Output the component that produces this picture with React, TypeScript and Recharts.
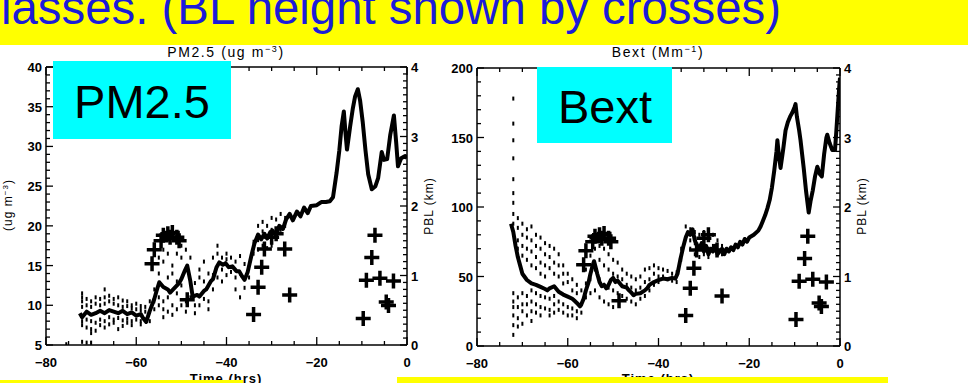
import React from 'react';
import { ComposedChart, Line, Scatter, XAxis, YAxis } from 'recharts';

// axis labels
const timeLabels = [-80, -60, -40, -20, 0];
const pmLabels = [5, 10, 15, 20, 25, 30, 35, 40];
const bextLabels = [0, 50, 100, 150, 200];
const pblLabels = [0, 1, 2, 3, 4];

const steps = (a: number, b: number, s: number) => {
  const out: number[] = [];
  for (let i = 0; a + i * s <= b + 1e-9; i++) out.push(Math.round((a + i * s) * 100) / 100);
  return out;
};
const timeTicks = steps(-80, 0, 5);
const pmTicks = steps(5, 40, 1);
const bextTicks = steps(0, 200, 10);
const pblTicks = steps(0, 4, 0.1);

// PM2.5 running mean [hrs, ug m-3]
const pmCurve: [number, number][] = [
  [-72.5, 9], [-72, 8.5], [-71, 9.2], [-70, 8.8], [-69, 9.0], [-68, 9.3], [-67, 9.0], [-66, 9.4],
  [-65, 9.2], [-64, 9.0], [-63, 9.3], [-62, 8.9], [-61, 9.1], [-60, 8.7], [-59, 8.9], [-58.5, 8.4],
  [-57.8, 7.9], [-57, 9.3], [-56, 10.8], [-55.5, 11.8], [-54.9, 12.9], [-54, 12.3], [-53, 12.0],
  [-52.5, 11.6], [-51.5, 12.2], [-50.5, 12.8], [-50, 13.3], [-49.2, 14.4], [-48.7, 15.0], [-48, 13],
  [-47.5, 11.1], [-46.5, 11.3], [-46, 11.1], [-45, 11.8], [-44.5, 12.0], [-43.5, 13.0], [-43, 13.3],
  [-42.2, 14.8], [-41.6, 15.4], [-40.8, 15.1], [-40.2, 15.3], [-39.5, 14.8], [-38.7, 14.9],
  [-37.8, 14.3], [-37.2, 14.3], [-36.5, 13.6], [-36, 13.2], [-35.3, 14.2], [-34.5, 16.2], [-33.8, 17.8],
  [-33, 18.9], [-32.3, 18.3], [-31.6, 19.0], [-31, 18.4], [-30.3, 19.2], [-29.8, 19.4], [-29, 18.8],
  [-28.3, 20.0], [-27.5, 19.6], [-26.8, 20.8], [-26, 21.5], [-25.3, 20.7], [-24.4, 21.8], [-23.6, 21.2],
  [-22.8, 22.3], [-22, 21.6], [-21.3, 22.5], [-20, 22.6], [-19, 23.0], [-18, 23.0], [-17.1, 23.1],
  [-16.4, 23.6], [-15.6, 26.7], [-15, 29.5], [-14.5, 32.5], [-14, 34.4], [-13.6, 31.5], [-13.3, 29.6],
  [-12.6, 32.5], [-12, 34.8], [-11.5, 36.3], [-10.9, 37.2], [-10.4, 35.8], [-9.8, 33.0], [-9.2, 29.5],
  [-8.6, 26.5], [-7.8, 24.6], [-7, 25.0], [-6.4, 26.0], [-5.6, 29.3], [-5.1, 28.3], [-4.4, 28.4],
  [-3.7, 31.5], [-2.9, 33.9], [-2.4, 30.5], [-2, 27.5], [-1.3, 28.5], [-0.4, 28.8], [0, 28.5],
];

// PM2.5 individual samples [hrs, values]
const pmSamples: [number, number[]][] = [
  [-75.5, [5.1]],
  [-72, [11.5, 11, 10.5, 9.8, 8, 7.5, 5.4]], [-71, [10.8, 10, 8.2, 7.2, 5.3]],
  [-70, [10.5, 9.8, 8, 7, 6.5, 5.3]], [-69, [11, 10.2, 7.8, 6.8]], [-68, [10.8, 10, 8.2, 7.5]],
  [-67, [12, 11, 10.2, 8, 7.2]], [-66, [11.2, 10.5, 8.5, 7.6]], [-65, [10.8, 10.2, 8.2, 7.8]],
  [-64, [11, 10, 8.4, 7]], [-63, [10.6, 9.8, 8.1, 7.4]], [-62, [10.5, 9.9, 8.3, 7.8]],
  [-61, [10, 9.6, 8, 7.5]], [-60, [10.2, 9.5, 8.2]], [-59, [9.9, 9.4, 8.0, 7.6]], [-58, [9.8, 9.2, 8.2]],
  [-57, [10.5, 8]], [-56, [12, 10.5, 9.5]], [-55, [16, 14, 11, 10]], [-54, [17, 15.5, 10.5, 9.5, 8.5]],
  [-53, [16.5, 13.5, 11, 9.2]], [-52, [15, 14, 10, 8.8]], [-51, [16.5, 13, 11.5, 9.5]],
  [-50, [17.5, 16, 12.5, 10]], [-49, [17, 14.5, 10.5, 9.2]], [-48, [16, 13, 11]], [-47, [12.8, 10, 9]],
  [-46, [14.5, 13.5, 10]], [-45, [15.5, 13, 10.8]], [-44, [14, 10.5, 9.5]], [-43, [16, 13.8, 12]],
  [-42, [17.5, 16.5, 13.5]], [-41, [16, 14.5, 13]], [-40, [16.5, 15.8, 13.8]], [-39, [16, 14.2]],
  [-38, [15.5, 13.5, 12]], [-37, [16.2, 14, 11]], [-36, [15.2, 12.2]], [-35, [15, 13.5]],
  [-34, [18, 16.5]], [-33, [20, 18.2, 17]], [-32, [20.5, 19.3, 17.5]], [-31, [20, 18.5, 17.2]],
  [-30, [21, 19.5, 17.5]], [-29, [20.8, 18.8]], [-28, [21.5, 19.5]], [-27, [21, 20]],
];

// Bext running mean [hrs, Mm-1]
const bextCurve: [number, number][] = [
  [-72.5, 88], [-72, 82], [-71.5, 72], [-71, 64], [-70.5, 58], [-70, 52], [-69, 47.5], [-68, 45],
  [-67, 44], [-66, 42.5], [-65, 41], [-64.5, 40], [-64, 41.5], [-63, 43], [-62.5, 41], [-62, 39],
  [-61, 37], [-60, 35.5], [-59, 34], [-58.5, 32.5], [-58, 31], [-57.3, 28.5], [-57, 30], [-56.5, 34],
  [-56, 40], [-55.4, 46], [-55, 52], [-54.5, 58], [-54.2, 61], [-53.8, 56], [-53.5, 52], [-53, 46],
  [-52.5, 43], [-52, 44], [-51.5, 41.5], [-51, 44], [-50.5, 47.5], [-50, 49], [-49.5, 46], [-49, 47],
  [-48, 43], [-47, 42], [-46.5, 40], [-46, 38.5], [-45.5, 36.5], [-45, 37.5], [-44, 38], [-43, 40],
  [-42.5, 41.5], [-42, 44], [-41, 46], [-40, 47.5], [-39, 48.5], [-38, 48], [-37, 49], [-36.3, 48.5],
  [-35.8, 52], [-35.2, 62], [-34.5, 72], [-34, 78], [-33.5, 82], [-33, 80], [-32.5, 84], [-32, 76],
  [-31.5, 72], [-31, 70], [-30.5, 74], [-30, 68], [-29.5, 72], [-29, 66], [-28.5, 70], [-28, 68],
  [-27.5, 72], [-27, 66], [-26.5, 68], [-26, 70], [-25.5, 66], [-25, 70], [-24.5, 68], [-24, 71],
  [-23.5, 69], [-23, 73], [-22.5, 71], [-22, 75], [-21.5, 73], [-21, 77], [-20.5, 75], [-20, 78],
  [-19, 80], [-18, 83], [-17.5, 86], [-17, 90], [-16.5, 94], [-16, 99], [-15.5, 105], [-15, 114],
  [-14.5, 126], [-14, 140], [-13.8, 148], [-13.5, 138], [-13.1, 128], [-12.5, 142], [-12, 155],
  [-11.5, 161], [-11, 165], [-10.5, 168], [-10, 172], [-9.8, 174], [-9.5, 165], [-9, 155], [-8.7, 148],
  [-8, 128], [-7.5, 112], [-7.2, 104], [-6.9, 96], [-6.5, 104], [-6, 112], [-5.5, 122], [-5, 129],
  [-4.5, 124], [-4, 122], [-3.5, 138], [-3, 150], [-2.8, 152], [-2.3, 146], [-1.7, 141], [-1.1, 141],
  [-0.8, 155], [-0.5, 170], [-0.2, 185], [0, 193],
];

// Bext individual samples [hrs, values]
const bextSamples: [number, number[]][] = [
  [-72, [178, 160, 148, 135, 120, 110, 103, 95, 88, 80, 38, 32, 28, 22, 15, 8]],
  [-71, [92, 85, 76, 70, 35, 28, 20, 14]], [-70, [88, 80, 72, 65, 38, 30, 25, 16]],
  [-69, [84, 78, 70, 62, 36, 30, 22]], [-68, [86, 76, 68, 58, 40, 32, 25, 18]],
  [-67, [80, 72, 64, 56, 38, 30, 24]], [-66, [78, 70, 60, 52, 36, 28, 22]],
  [-65, [74, 66, 58, 50, 35, 27]], [-64, [72, 64, 56, 34, 26, 22]], [-63, [70, 60, 52, 36, 30, 24]],
  [-62, [66, 58, 50, 32, 26]], [-61, [58, 52, 45, 30, 24]], [-60, [52, 46, 28, 22]],
  [-59, [48, 40, 27, 22]], [-58, [44, 38, 25, 20]], [-57, [40, 30, 24]], [-56, [55, 45, 35]],
  [-55, [78, 65, 48, 38]], [-54, [80, 70, 55, 40]], [-53, [72, 62, 48, 35]], [-52, [70, 58, 44, 32]],
  [-51, [66, 55, 42, 30]], [-50, [62, 52, 40, 28]], [-49, [60, 50, 38]], [-48, [55, 48, 36]],
  [-47, [52, 44, 34]], [-46, [50, 42, 32]], [-45, [48, 40, 30]], [-44, [50, 42, 34]],
  [-43, [55, 46, 36]], [-42, [56, 48, 40]], [-41, [58, 52, 44]], [-40, [56, 50, 46]],
  [-39, [55, 50]], [-38, [54, 48]], [-37, [52, 47]], [-36, [53, 46]], [-35, [70, 62]],
  [-34, [86, 78]], [-33, [84, 76, 70]], [-32, [82, 74, 66]], [-31, [80, 72, 64]],
  [-30, [82, 74, 66]], [-29, [78, 70, 64]], [-28, [80, 72]], [-27, [76, 68]], [-26, [72, 66]],
];

// boundary layer height [hrs, km]
const pblHeight: [number, number][] = [
  [-56.5, 1.17], [-56, 1.37], [-54.5, 1.5], [-54, 1.58], [-53, 1.6], [-52.5, 1.55], [-52, 1.62],
  [-51, 1.55], [-50.5, 1.5], [-48.7, 0.65], [-34, 0.44], [-33, 0.83], [-32.2, 1.12], [-31.6, 1.38],
  [-30, 1.55], [-29, 1.6], [-27.1, 1.38], [-26, 0.72], [-9.7, 0.38], [-9, 0.93], [-7.8, 1.26],
  [-7.1, 1.58], [-6, 0.96], [-4.6, 0.62], [-4.1, 0.57], [-3, 0.92],
];

const pairs = (a: [number, number][]) => a.map(([t, v]) => ({ t, v }));
const columns = (a: [number, number[]][]) => a.flatMap(([t, vs]) => vs.map((v) => ({ t, v })));

const tickFont = { fontFamily: '"Liberation Sans", Arial, sans-serif', fontSize: 13, fontWeight: 700 };
const labelFont = '"Liberation Sans", Arial, sans-serif';
const axisStyle = { stroke: '#000', strokeWidth: 1.5 };

const LeftTick = ({ x, y, payload, labels }: any) => {
  const major = labels.includes(payload.value);
  return (
    <g>
      <line x1={x} y1={y} x2={x + (major ? 7 : 4)} y2={y} stroke="#000" strokeWidth={1.3} />
      {major && <text x={x - 4} y={y + 5} textAnchor="end" style={tickFont} fill="#000">{payload.value}</text>}
    </g>
  );
};

const RightTick = ({ x, y, payload, labels }: any) => {
  const major = labels.includes(payload.value);
  return (
    <g>
      <line x1={x} y1={y} x2={x - (major ? 7 : 4)} y2={y} stroke="#000" strokeWidth={1.3} />
      {major && <text x={x + 4} y={y + 5} textAnchor="start" style={tickFont} fill="#000">{payload.value}</text>}
    </g>
  );
};

const BottomTick = ({ x, y, payload }: any) => {
  const major = timeLabels.includes(payload.value);
  return (
    <g>
      <line x1={x} y1={y} x2={x} y2={y - (major ? 8 : 4)} stroke="#000" strokeWidth={1.3} />
      {major && (
        <text x={x} y={y + 22} textAnchor="middle" style={tickFont} fill="#000">
          {payload.value === 0 ? '0' : '\u2212' + Math.abs(payload.value)}
        </text>
      )}
    </g>
  );
};

const TopTick = ({ x, y, payload }: any) => {
  const major = timeLabels.includes(payload.value);
  return <line x1={x} y1={y} x2={x} y2={y + (major ? 8 : 4)} stroke="#000" strokeWidth={1.3} />;
};

const Dash = ({ cx, cy }: any) => <rect x={cx - 1} y={cy - 2} width={2} height={4} fill="#000" />;

const Cross = ({ cx, cy }: any) => (
  <path d={`M${cx - 7.5},${cy}H${cx + 7.5}M${cx},${cy - 7.5}V${cy + 7.5}`} stroke="#000" strokeWidth={3.5} fill="none" />
);

interface PanelProps {
  left: number;
  width: number;
  margin: { top: number; right: number; bottom: number; left: number };
  curve: { t: number; v: number }[];
  samples: { t: number; v: number }[];
  domain: [number, number];
  ticks: number[];
  labels: number[];
}

// axes take 1px each, so margins are one less than the plot edges
const Panel = ({ left, width, margin, curve, samples, domain, ticks, labels }: PanelProps) => (
  <div style={{ position: 'absolute', left, top: 0 }}>
    <ComposedChart width={width} height={383} margin={margin}>
      <XAxis
        xAxisId="b" dataKey="t" type="number" domain={[-80, 0]} ticks={timeTicks} interval={0}
        height={1} tickSize={0} tickMargin={0} axisLine={axisStyle} tickLine={false}
        tick={(p: any) => <BottomTick {...p} />} allowDataOverflow
      />
      <XAxis
        xAxisId="t" orientation="top" dataKey="t" type="number" domain={[-80, 0]} ticks={timeTicks}
        interval={0} height={1} tickSize={0} tickMargin={0} axisLine={axisStyle} tickLine={false}
        tick={(p: any) => <TopTick {...p} />} allowDataOverflow
      />
      <YAxis
        yAxisId="main" type="number" domain={domain} ticks={ticks} interval={0} width={1}
        tickSize={0} tickMargin={0} axisLine={axisStyle} tickLine={false}
        tick={(p: any) => <LeftTick {...p} labels={labels} />} allowDataOverflow
      />
      <YAxis
        yAxisId="pbl" orientation="right" type="number" domain={[0, 4]} ticks={pblTicks} interval={0}
        width={1} tickSize={0} tickMargin={0} axisLine={axisStyle} tickLine={false}
        tick={(p: any) => <RightTick {...p} labels={pblLabels} />} allowDataOverflow
      />
      <Scatter xAxisId="b" yAxisId="main" data={samples} dataKey="v" shape={<Dash />} isAnimationActive={false} />
      <Line
        xAxisId="b" yAxisId="main" data={curve} dataKey="v" type="linear" stroke="#000" strokeWidth={4}
        strokeLinejoin="round" dot={false} isAnimationActive={false}
      />
      <Scatter xAxisId="b" yAxisId="pbl" data={pairs(pblHeight)} dataKey="v" shape={<Cross />} isAnimationActive={false} />
    </ComposedChart>
  </div>
);

export default function App() {
  return (
    <div style={{ position: 'fixed', left: 0, top: 0, width: 968, height: 383, background: '#fff', overflow: 'hidden' }}>
      <Panel
        left={0} width={460} margin={{ top: 66, right: 52, bottom: 37, left: 45 }}
        curve={pairs(pmCurve)} samples={columns(pmSamples)} domain={[5, 40]} ticks={pmTicks} labels={pmLabels}
      />
      <Panel
        left={430} width={538} margin={{ top: 67, right: 127, bottom: 36, left: 46 }}
        curve={pairs(bextCurve)} samples={columns(bextSamples)} domain={[0, 200]} ticks={bextTicks} labels={bextLabels}
      />
      <svg width={968} height={383} style={{ position: 'absolute', left: 0, top: 0, pointerEvents: 'none' }}>
        <rect x={0} y={0} width={968} height={45} fill="#ffff00" />
        <text x={1} y={24} textLength={780} lengthAdjust="spacingAndGlyphs" fontSize={48} fill="#1c1cd8" fontFamily={labelFont}>
          lasses. (BL height shown by crosses)
        </text>

        <text x={226} y={57} textAnchor="middle" fontSize={14} letterSpacing={1.6} fontFamily={labelFont}>
          PM2.5 (ug m<tspan dy={-5} fontSize={9}>{'\u22123'}</tspan><tspan dy={5}>)</tspan>
        </text>
        <text x={658} y={57} textAnchor="middle" fontSize={14} letterSpacing={1.6} fontFamily={labelFont}>
          Bext (Mm<tspan dy={-5} fontSize={9}>{'\u22121'}</tspan><tspan dy={5}>)</tspan>
        </text>

        <rect x={53} y={61} width={178} height={78} fill="#00ffff" />
        <text x={142} y={118} textAnchor="middle" fontSize={47} fontFamily={labelFont}>PM2.5</text>
        <rect x={537} y={67} width={135} height={76} fill="#00ffff" />
        <text x={605} y={123} textAnchor="middle" fontSize={47} fontFamily={labelFont}>Bext</text>

        <text transform="translate(12,205) rotate(-90)" textAnchor="middle" fontSize={12} letterSpacing={1} fontFamily={labelFont}>
          (ug m<tspan dy={-4} fontSize={8}>{'\u22123'}</tspan><tspan dy={4}>)</tspan>
        </text>
        <text transform="translate(433,206) rotate(-90)" textAnchor="middle" fontSize={12} letterSpacing={1} fontFamily={labelFont}>
          PBL (km)
        </text>
        <text transform="translate(866,206) rotate(-90)" textAnchor="middle" fontSize={12} letterSpacing={1} fontFamily={labelFont}>
          PBL (km)
        </text>

        <text x={226} y={383} textAnchor="middle" fontSize={13} fontWeight={700} letterSpacing={1} fontFamily={labelFont}>
          Time (hrs)
        </text>
        <text x={658} y={383} textAnchor="middle" fontSize={13} fontWeight={700} letterSpacing={1} fontFamily={labelFont}>
          Time (hrs)
        </text>

        <rect x={0} y={380} width={243} height={3} fill="#ffff00" />
        <rect x={397} y={377} width={491} height={6} fill="#ffff00" />
      </svg>
    </div>
  );
}
